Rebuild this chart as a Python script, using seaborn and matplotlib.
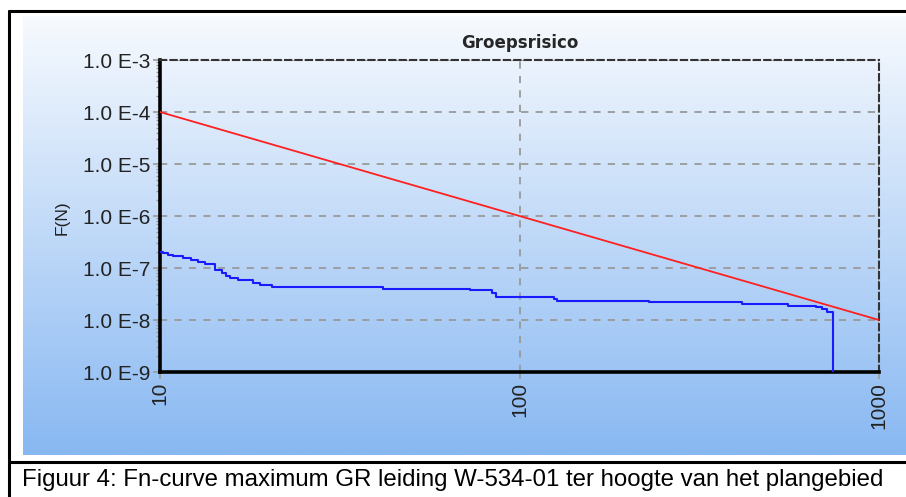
import numpy as np
import pandas as pd
import matplotlib
matplotlib.use('Agg')
import matplotlib.pyplot as plt
from matplotlib.lines import Line2D
from matplotlib.ticker import FixedLocator, LogLocator, NullFormatter
import seaborn as sns

# FN curve (blue)
fn_n = [10.0, 10.19, 10.52, 10.87, 11.58, 12.19, 12.75, 13.34, 14.21, 14.87, 15.26,
        15.65, 16.47, 18.13, 18.96, 20.47, 41.6, 72.6, 84.1, 86.3, 125.0, 127.5,
        229.7, 416.0, 558.0, 668.0, 694.6, 717.0, 745.0]
fn_f = [2.03e-7, 1.94e-7, 1.78e-7, 1.70e-7, 1.56e-7, 1.43e-7, 1.31e-7, 1.19e-7, 9.2e-8,
        8.0e-8, 7.0e-8, 6.4e-8, 5.9e-8, 5.15e-8, 4.7e-8, 4.3e-8, 3.95e-8, 3.73e-8,
        3.3e-8, 2.77e-8, 2.53e-8, 2.35e-8, 2.19e-8, 2.03e-8, 1.88e-8, 1.78e-8,
        1.63e-8, 1.41e-8, 1.0e-9]

# orientatiewaarde (red)
ow_n = [10, 1000]
ow_f = [1e-4, 1e-8]

y_ticks = [1e-9, 1e-8, 1e-7, 1e-6, 1e-5, 1e-4, 1e-3]
y_labels = ['1.0 E-9', '1.0 E-8', '1.0 E-7', '1.0 E-6', '1.0 E-5', '1.0 E-4', '1.0 E-3']
x_ticks = [10, 100, 1000]
x_labels = ['10', '100', '1000']

title = 'Groepsrisico'
ylabel = 'F(N)'
caption = 'Figuur 4: Fn-curve maximum GR leiding W-534-01 ter hoogte van het plangebied'

sns.set_style('white')
plt.rcParams['font.family'] = ['Liberation Sans', 'DejaVu Sans']

W, H = 906, 497
fig = plt.figure(figsize=(W / 100, H / 100), dpi=100)
fig.patch.set_facecolor('white')

# gradient panel behind the chart
bg = fig.add_axes([23 / W, 1 - 455 / H, (W - 23) / W, (455 - 16) / H], zorder=0)
top_c = np.array([247, 250, 254]) / 255
bot_c = np.array([136, 184, 242]) / 255
t = np.linspace(0, 1, 256)[:, None]
grad = (top_c[None, :] * (1 - t) + bot_c[None, :] * t)[:, None, :]
bg.imshow(grad, aspect='auto', extent=[0, 1, 0, 1], interpolation='bilinear')
bg.set_axis_off()

# frame lines
lw = 2.2
fig.add_artist(Line2D([9 / W, 9 / W], [0, 1 - 11 / H], color='black', lw=lw))
fig.add_artist(Line2D([9 / W, 1], [1 - 11 / H, 1 - 11 / H], color='black', lw=lw))
fig.add_artist(Line2D([9 / W, 1], [1 - 462 / H, 1 - 462 / H], color='black', lw=lw))

ax = fig.add_axes([160 / W, 1 - 372 / H, (879 - 160) / W, (372 - 60) / H], zorder=2)
ax.set_facecolor('none')

df_fn = pd.DataFrame({'N': fn_n, 'F': fn_f})
df_ow = pd.DataFrame({'N': ow_n, 'F': ow_f})
sns.lineplot(data=df_ow, x='N', y='F', ax=ax, color='#ff2020', lw=1.3,
             estimator=None, sort=False, zorder=3)
sns.lineplot(data=df_fn, x='N', y='F', ax=ax, color='#1a1aff', lw=1.5,
             estimator=None, sort=False, drawstyle='steps-post', zorder=3)

ax.set_xscale('log')
ax.set_yscale('log')
ax.set_xlim(10, 1000)
ax.set_ylim(1e-9, 1e-3)

ax.yaxis.set_major_locator(FixedLocator(y_ticks))
ax.set_yticklabels(y_labels)
ax.yaxis.set_minor_locator(LogLocator(base=10, subs=np.arange(2, 10)))
ax.yaxis.set_minor_formatter(NullFormatter())
ax.xaxis.set_major_locator(FixedLocator(x_ticks))
ax.set_xticklabels(x_labels, rotation=90)
ax.xaxis.set_minor_locator(FixedLocator([]))

ax.tick_params(axis='both', which='major', direction='out', length=5, width=1.2,
               color='#999999', labelsize=15, labelcolor='#222222', pad=2)
ax.tick_params(axis='y', which='minor', direction='out', length=3, width=1,
               color='#999999', left=True)
ax.tick_params(axis='x', which='major', bottom=True)
ax.tick_params(axis='y', which='major', left=True)

ax.grid(True, which='major', color='#999999', linestyle=(0, (4, 4)), lw=1.3)

for side in ['left', 'bottom']:
    ax.spines[side].set_color('black')
    ax.spines[side].set_linewidth(2.6)
for side in ['top', 'right']:
    ax.spines[side].set_color('#333333')
    ax.spines[side].set_linewidth(1.5)
    ax.spines[side].set_linestyle((0, (3, 2)))

ax.set_title(title, fontsize=12, fontweight='bold', family='DejaVu Sans', pad=9)
ax.set_ylabel(ylabel, fontsize=12.5, color='#222222')
ax.yaxis.set_label_coords((70 - 160) / 719, (372 - 218) / 312)
ax.set_xlabel('')

fig.text(22 / W, 1 - 480 / H, caption, fontsize=17.3, va='center', ha='left', color='black')

plt.savefig('out.png', dpi=100)
